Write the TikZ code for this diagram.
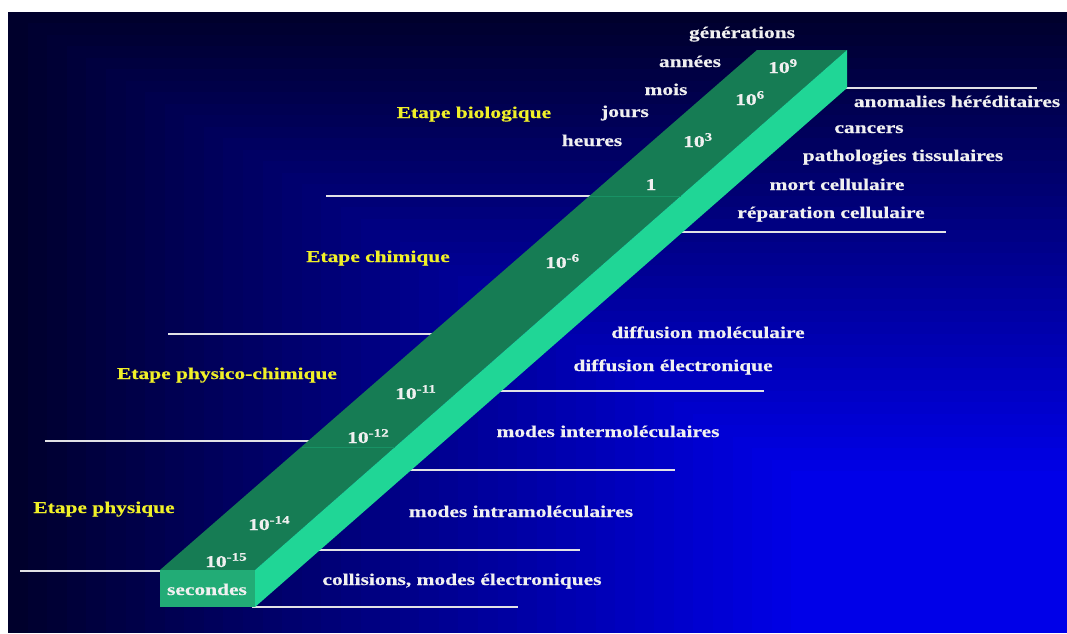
\documentclass[tikz,border=0pt]{standalone}
\usepackage{fontspec}
\setmainfont{Liberation Serif}[FakeStretch=1.3, FakeBold=0.4]
\definecolor{bgdark}{RGB}{0,0,44}
\definecolor{bgbright}{RGB}{0,0,232}
\definecolor{topg}{RGB}{22,124,84}
\definecolor{sideg}{RGB}{32,214,150}
\definecolor{frontg}{RGB}{34,172,118}
\definecolor{ylw}{RGB}{240,240,40}
\definecolor{lbl}{RGB}{240,240,240}
\definecolor{lineW}{RGB}{225,225,230}
\begin{document}
\begin{tikzpicture}[x=1pt,y=-1pt,
  sep/.style={draw=lineW, line width=1.6pt},
  lab/.style={text=lbl, font=\bfseries\fontsize{16.5}{19}\selectfont, inner sep=0pt, anchor=base},
  stage/.style={lab, text=ylw},
  facet/.style={line width=0.8pt, draw=topg!75!sideg}]
\useasboundingbox (0,0) rectangle (1067,633);
\fill[white] (0,0) rectangle (1067,633);
% background gradient (corner gradient)
\foreach \i in {0,...,40}{
  \pgfmathsetmacro\p{\i*2.5}
  \fill[bgbright!\p!bgdark] ({8+\i*0.0185*1059},{12+\i*0.0185*621}) rectangle (1067,633);
}
% separator lines, left
\coordinate (l1a) at (20,571);  \coordinate (l1b) at (162,571);
\coordinate (l2a) at (45,441);  \coordinate (l2b) at (310,441);
\coordinate (l3a) at (168,334); \coordinate (l3b) at (433,334);
\coordinate (l4a) at (326,196); \coordinate (l4b) at (591,196);
\draw[sep] (l1a) -- (l1b);
\draw[sep] (l2a) -- (l2b);
\draw[sep] (l3a) -- (l3b);
\draw[sep] (l4a) -- (l4b);
% separator lines, right
\coordinate (r1a) at (845,88);  \coordinate (r1b) at (1037,88);
\coordinate (r2a) at (680,232); \coordinate (r2b) at (946,232);
\coordinate (r3a) at (498,391); \coordinate (r3b) at (764,391);
\coordinate (r4a) at (408,470); \coordinate (r4b) at (675,470);
\coordinate (r5a) at (317,550); \coordinate (r5b) at (580,550);
\coordinate (r6a) at (252,607); \coordinate (r6b) at (518,607);
\draw[sep] (r1a) -- (r1b);
\draw[sep] (r2a) -- (r2b);
\draw[sep] (r3a) -- (r3b);
\draw[sep] (r4a) -- (r4b);
\draw[sep] (r5a) -- (r5b);
\draw[sep] (r6a) -- (r6b);
% the bar
\coordinate (fA) at (160,570); \coordinate (fB) at (255,570);
\coordinate (fC) at (255,607); \coordinate (fD) at (160,607);
\coordinate (tA) at (757,50);  \coordinate (tB) at (847,50);
\coordinate (tC) at (847,88);
\fill[topg] (fA) -- (fB) -- (tB) -- (tA) -- cycle;
\fill[sideg] (fB) -- (tB) -- (tC) -- (fC) -- cycle;
\fill[frontg] (fA) -- (fB) -- (fC) -- (fD) -- cycle;
\draw[facet] (589,196) -- (681,196);
\draw[facet] (302,447) -- (395,447);
% time values on the bar
\node[lab] (s) at (207,595) {secondes};
\node[lab, anchor=base west] (e15) at (205,567) {10\textsuperscript{-15}};
\node[lab, anchor=base west] (e14) at (248,530) {10\textsuperscript{-14}};
\node[lab, anchor=base west] (e12) at (347,443) {10\textsuperscript{-12}};
\node[lab, anchor=base west] (e11) at (395,399) {10\textsuperscript{-11}};
\node[lab, anchor=base west] (e6) at (545,268) {10\textsuperscript{-6}};
\node[lab] (e0) at (651,190) {1};
\node[lab, anchor=base west] (e3) at (683,147) {10\textsuperscript{3}};
\node[lab, anchor=base west] (e6p) at (735,105) {10\textsuperscript{6}};
\node[lab, anchor=base west] (e9) at (768,73) {10\textsuperscript{9}};
% time units
\node[lab] (gen) at (742,38) {générations};
\node[lab] (ann) at (690,67) {années};
\node[lab] (moi) at (666,95) {mois};
\node[lab] (jou) at (625,117) {jours};
\node[lab] (heu) at (592,146) {heures};
% stages
\node[stage] (sbio) at (474,118) {Etape biologique};
\node[stage] (schi) at (378,262) {Etape chimique};
\node[stage] (sphc) at (227,379) {Etape physico-chimique};
\node[stage] (sphy) at (104,513) {Etape physique};
% effects
\node[lab] (ano) at (957,107) {anomalies héréditaires};
\node[lab] (can) at (869,133) {cancers};
\node[lab] (pat) at (903,161) {pathologies tissulaires};
\node[lab] (mor) at (837,190) {mort cellulaire};
\node[lab] (rep) at (831,218) {réparation cellulaire};
\node[lab] (dmo) at (708,338) {diffusion moléculaire};
\node[lab] (del) at (673,371) {diffusion électronique};
\node[lab] (mie) at (608,437) {modes intermoléculaires};
\node[lab] (mia) at (521,517) {modes intramoléculaires};
\node[lab] (col) at (462,585) {collisions, modes électroniques};
\end{tikzpicture}
\end{document}
